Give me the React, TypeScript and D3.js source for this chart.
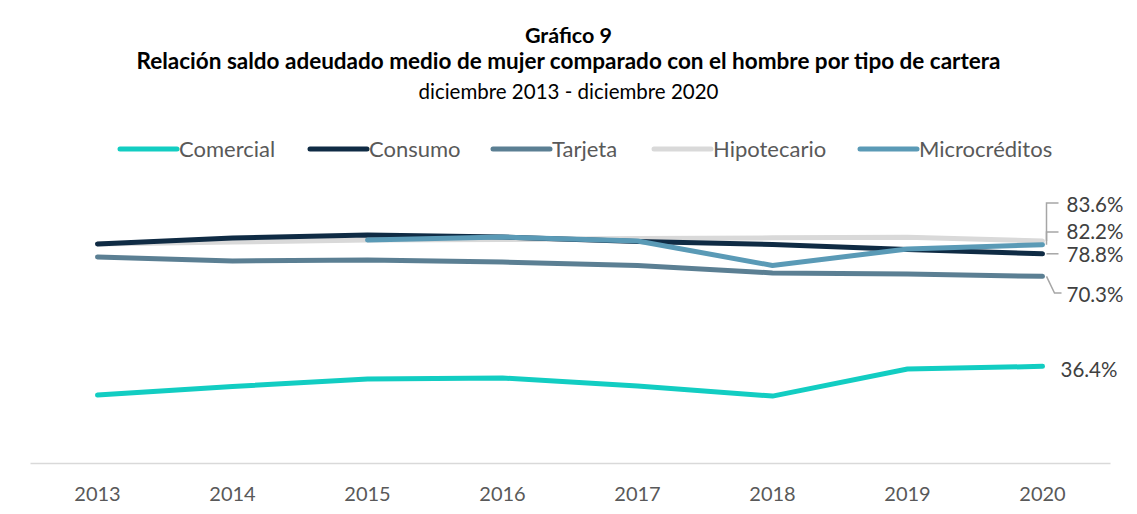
import React, { useEffect, useRef } from 'react';
import * as d3 from 'd3';

const years = ['2013', '2014', '2015', '2016', '2017', '2018', '2019', '2020'];
const comercial = [25.6, 28.8, 31.6, 32.0, 29.0, 25.2, 35.4, 36.4];
const consumo = [82.5, 84.7, 85.9, 85.1, 83.4, 82.3, 80.4, 78.8];
const tarjeta = [77.6, 76.1, 76.5, 75.7, 74.4, 71.6, 71.2, 70.3];
const hipotecario = [82.5, 83.2, 84.0, 84.2, 84.6, 84.8, 85.0, 83.6];
const microcreditos = [null, null, 84.0, 85.1, 83.6, 74.4, 80.6, 82.2];

const legendNames = ['Comercial', 'Consumo', 'Tarjeta', 'Hipotecario', 'Microcréditos'];
const endLabels = ['36.4%', '78.8%', '70.3%', '83.6%', '82.2%'];

const W = 1137;
const H = 514;

export default function App() {
    const ref = useRef<SVGSVGElement | null>(null);

    useEffect(() => {
        const svg = d3.select(ref.current);
        svg.selectAll('*').remove();
        const font = 'Lato, "Open Sans", sans-serif';

        const series = [
            { name: 'Comercial', values: comercial, color: '#12cdc2' },
            { name: 'Consumo', values: consumo, color: '#0f2b44' },
            { name: 'Tarjeta', values: tarjeta, color: '#5b7f93' },
            { name: 'Hipotecario', values: hipotecario, color: '#d9d9d9' },
            { name: 'Microcréditos', values: microcreditos, color: '#5a9ab6' },
        ];

        const x = d3.scaleBand().domain(years).range([30, 1110]);
        const cx = (d: string) => (x(d) as number) + x.bandwidth() / 2;
        const y = d3.scaleLinear().domain([0, 100]).range([463, 197.5]);

        // title
        const title = [
            { t: 'Gráfico 9', y: 43, w: 'bold', s: 21.5 },
            { t: 'Relación saldo adeudado medio de mujer comparado con el hombre por tipo de cartera', y: 69, w: 'bold', s: 22.5 },
            { t: 'diciembre 2013 - diciembre 2020', y: 99, w: 'normal', s: 20.5 },
        ];
        svg.selectAll('text.title')
            .data(title).enter()
            .append('text')
            .attr('class', 'title')
            .attr('x', W / 2)
            .attr('y', d => d.y)
            .attr('text-anchor', 'middle')
            .attr('font-family', font)
            .attr('font-size', d => d.s)
            .attr('font-weight', d => d.w)
            .attr('fill', '#000')
            .text(d => d.t);

        // legend
        const legendX = [120, 310, 493, 654, 860];
        const lg = svg.append('g');
        series.forEach((s, i) => {
            lg.append('line')
                .attr('x1', legendX[i]).attr('x2', legendX[i] + 57)
                .attr('y1', 149).attr('y2', 149)
                .attr('stroke', s.color)
                .attr('stroke-width', 5)
                .attr('stroke-linecap', 'round');
            lg.append('text')
                .attr('x', legendX[i] + 59)
                .attr('y', 157)
                .attr('font-family', font)
                .attr('font-size', 22)
                .attr('fill', '#595959')
                .text(legendNames[i]);
        });

        // x axis
        const axis = svg.append('g')
            .attr('transform', `translate(0, 463)`)
            .call(d3.axisBottom(x).tickSize(0).tickPadding(24));
        axis.select('.domain').attr('stroke', '#d9d9d9').attr('stroke-width', 1.5);
        axis.selectAll('text')
            .attr('font-family', font)
            .attr('font-size', 20)
            .attr('fill', '#595959');

        // lines
        const drawOrder = [3, 1, 2, 4, 0];
        drawOrder.forEach(i => {
            const s = series[i];
            const line = d3.line<number | null>()
                .defined(v => v !== null)
                .x((v, j) => cx(years[j]))
                .y(v => y(v as number));
            svg.append('path')
                .datum(s.values)
                .attr('d', line)
                .attr('fill', 'none')
                .attr('stroke', s.color)
                .attr('stroke-width', 5)
                .attr('stroke-linejoin', 'round')
                .attr('stroke-linecap', 'round');
        });

        // end labels with leader lines
        const ex = cx('2020');
        const last = (v: (number | null)[]) => y(v[v.length - 1] as number);
        const leaders = [
            { pts: [[ex + 4, last(hipotecario)], [ex + 4, 203], [ex + 16, 203]], label: endLabels[3], ly: 205 },
            { pts: [[ex + 4, last(microcreditos)], [ex + 4, 232], [ex + 16, 232]], label: endLabels[4], ly: 232 },
            { pts: [[ex + 4, last(consumo)], [ex + 16, last(consumo)]], label: endLabels[1], ly: 255 },
            { pts: [[ex + 4, last(tarjeta)], [ex + 12, 293], [ex + 19, 293]], label: endLabels[2], ly: 295 },
        ];
        leaders.forEach(l => {
            svg.append('path')
                .attr('d', d3.line()(l.pts as [number, number][]))
                .attr('fill', 'none')
                .attr('stroke', '#a6a6a6')
                .attr('stroke-width', 1.5);
            svg.append('text')
                .attr('x', ex + 24)
                .attr('y', l.ly)
                .attr('dy', '0.35em')
                .attr('font-family', font)
                .attr('font-size', 20.5)
                .attr('fill', '#404040')
                .text(l.label);
        });
        svg.append('text')
            .attr('x', ex + 18)
            .attr('y', last(comercial) + 3)
            .attr('dy', '0.35em')
            .attr('font-family', font)
            .attr('font-size', 20.5)
            .attr('fill', '#404040')
            .text(endLabels[0]);
    }, []);

    return (
        <svg
            ref={ref}
            width={W}
            height={H}
            style={{ position: 'absolute', left: 0, top: 0, background: '#fff' }}
        />
    );
}
